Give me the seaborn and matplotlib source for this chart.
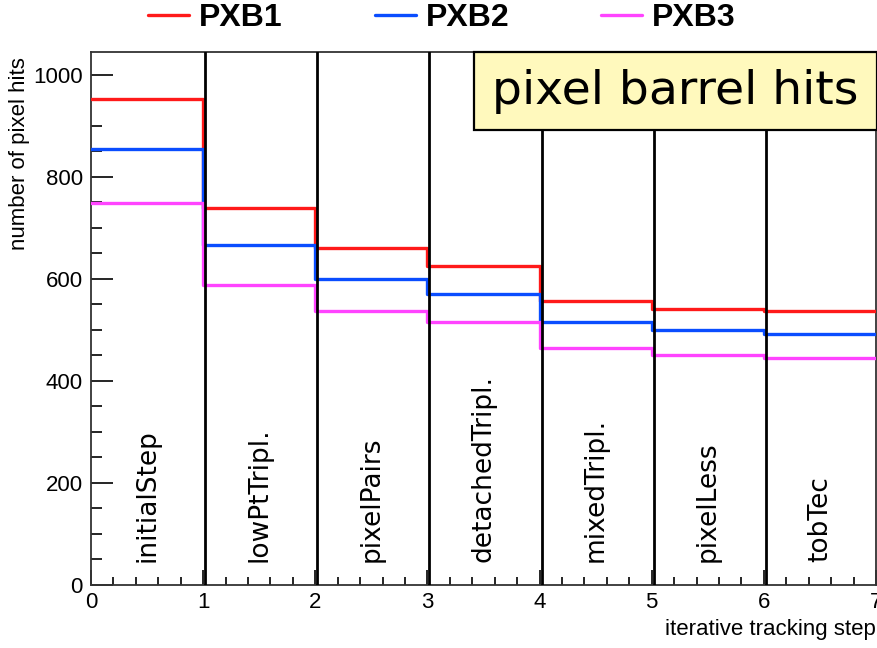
import numpy as np
import pandas as pd
import matplotlib
matplotlib.use("Agg")
import matplotlib.pyplot as plt
from matplotlib.ticker import MultipleLocator
from matplotlib.patches import Rectangle
from matplotlib.lines import Line2D
import seaborn as sns

steps = ["initialStep", "lowPtTripl.", "pixelPairs", "detachedTripl.",
         "mixedTripl.", "pixelLess", "tobTec"]
series_names = ["PXB1", "PXB2", "PXB3"]
pxb1 = [952, 739, 661, 625, 556, 542, 537]
pxb2 = [855, 667, 600, 570, 515, 499, 492]
pxb3 = [748, 589, 537, 516, 465, 451, 446]
colors = ["#ff1a1a", "#0a4dff", "#ff44ff"]
title_text = "pixel barrel hits"
xlabel = "iterative tracking step"
ylabel = "number of pixel hits"

sns.set_style("ticks")
plt.rcParams["font.family"] = ["Liberation Sans", "DejaVu Sans"]
plt.rcParams["text.color"] = "black"
plt.rcParams["axes.labelcolor"] = "black"
plt.rcParams["xtick.color"] = "black"
plt.rcParams["ytick.color"] = "black"

edges = np.arange(len(steps) + 1)
rows = []
for name, vals in zip(series_names, [pxb1, pxb2, pxb3]):
    for x, v in zip(edges, list(vals) + [vals[-1]]):
        rows.append({"step": x, "hits": v, "layer": name})
df = pd.DataFrame(rows)

fig = plt.figure(figsize=(8.77, 6.48), dpi=100)
ax = fig.add_axes([91/877, 63/648, (876-91)/877, (585-52)/648])

sns.lineplot(data=df, x="step", y="hits", hue="layer", palette=colors,
             drawstyle="steps-post", linewidth=2.4, ax=ax, legend=False,
             zorder=3)

for e in edges[1:-1]:
    ax.axvline(e + 0.018, color="black", linewidth=2.0, zorder=4)

for i, s in enumerate(steps):
    ax.text(i + 0.5, 45, s, rotation=90, ha="center", va="bottom",
            fontsize=19, family="DejaVu Sans", color="black", zorder=5)

ax.set_xlim(0, 7)
ax.set_ylim(0, 1045)
ax.xaxis.set_major_locator(MultipleLocator(1))
ax.xaxis.set_minor_locator(MultipleLocator(0.2))
ax.yaxis.set_major_locator(MultipleLocator(200))
ax.yaxis.set_minor_locator(MultipleLocator(50))
ax.tick_params(axis="both", which="both", direction="in", colors="black",
               labelsize=16)
ax.tick_params(axis="y", which="major", length=16, width=1.2, pad=6)
ax.tick_params(axis="y", which="minor", length=8, width=1.2)
ax.tick_params(axis="x", which="major", length=11, width=1.2, pad=5)
ax.tick_params(axis="x", which="minor", length=6, width=1.2)
for sp in ax.spines.values():
    sp.set_visible(True)
    sp.set_linewidth(1.3)
    sp.set_color("#333333")

ax.set_xlabel(xlabel, fontsize=16, loc="right", labelpad=4, color="black")
ax.set_ylabel(ylabel, fontsize=16, loc="top", labelpad=2, color="black")
ax.yaxis.set_label_coords(-0.078, 0.99)

# title box
fig.patches.append(Rectangle((474/877, (648-130)/648), (877-474)/877, 78/648,
                             transform=fig.transFigure, facecolor="#fff9bd",
                             edgecolor="black", linewidth=1.6, zorder=10))
fig.text((474+877)/2/877, 1 - 92/648, title_text, fontsize=34,
         family="DejaVu Sans", ha="center", va="center", color="black",
         zorder=11)

# legend
handles = [Line2D([0], [0], color=c, linewidth=2.4) for c in colors]
leg = fig.legend(handles, series_names, loc="center", ncol=3,
                 bbox_to_anchor=(442/877, 1 - 18.5/648), frameon=False,
                 handlelength=1.28, handletextpad=0.31, columnspacing=2.88,
                 borderpad=0, borderaxespad=0,
                 prop={"family": "Liberation Sans", "weight": "bold",
                       "size": 23})
for t in leg.get_texts():
    t.set_color("black")

fig.savefig("out.png", dpi=100)
